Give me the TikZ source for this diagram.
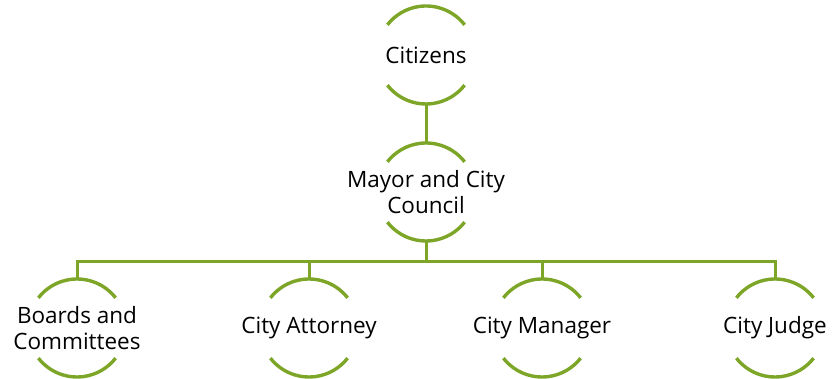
\documentclass[tikz,border=0pt]{standalone}
\usepackage{fontspec}
\setmainfont{Open Sans}
\definecolor{lgreen}{RGB}{125,166,40}
\begin{document}
\begin{tikzpicture}[x=1pt,y=1pt,
  circ/.style={circle,minimum size=98pt,inner sep=0pt,outer sep=0pt},
  lbl/.style={align=center,font=\fontsize{22.5}{26}\selectfont,text=black,inner sep=0pt},
  arcline/.style={draw=lgreen,line width=3.4pt},
  conn/.style={draw=lgreen,line width=3pt,line join=miter}]
\useasboundingbox (0,0) rectangle (835,379);
\node[circ,label={[lbl]center:Citizens}] (cit) at (426,324) {};
\node[circ,label={[lbl]center:Mayor and City\\Council}] (may) at (426,187) {};
\node[circ,label={[lbl]center:Boards and\\Committees}] (b1) at (77,51) {};
\node[circ,label={[lbl]center:City Attorney}] (b2) at (309,51) {};
\node[circ,label={[lbl]center:City Manager}] (b3) at (542,51) {};
\node[circ,label={[lbl]center:City Judge}] (b4) at (775,51) {};
\coordinate (bus) at (426,117);
\foreach \n in {cit,may,b1,b2,b3,b4}{
  \draw[arcline] (\n.38) arc[start angle=38,end angle=142,radius=49pt];
  \draw[arcline] (\n.218) arc[start angle=218,end angle=322,radius=49pt];
}
\draw[conn] (cit.south) -- (may.north);
\draw[conn] (may.south) -- (bus);
\draw[conn] (b1.north) -- (b1.north |- bus) -- (b4.north |- bus) -- (b4.north);
\draw[conn] (b2.north) -- (b2.north |- bus);
\draw[conn] (b3.north) -- (b3.north |- bus);
\end{tikzpicture}
\end{document}
